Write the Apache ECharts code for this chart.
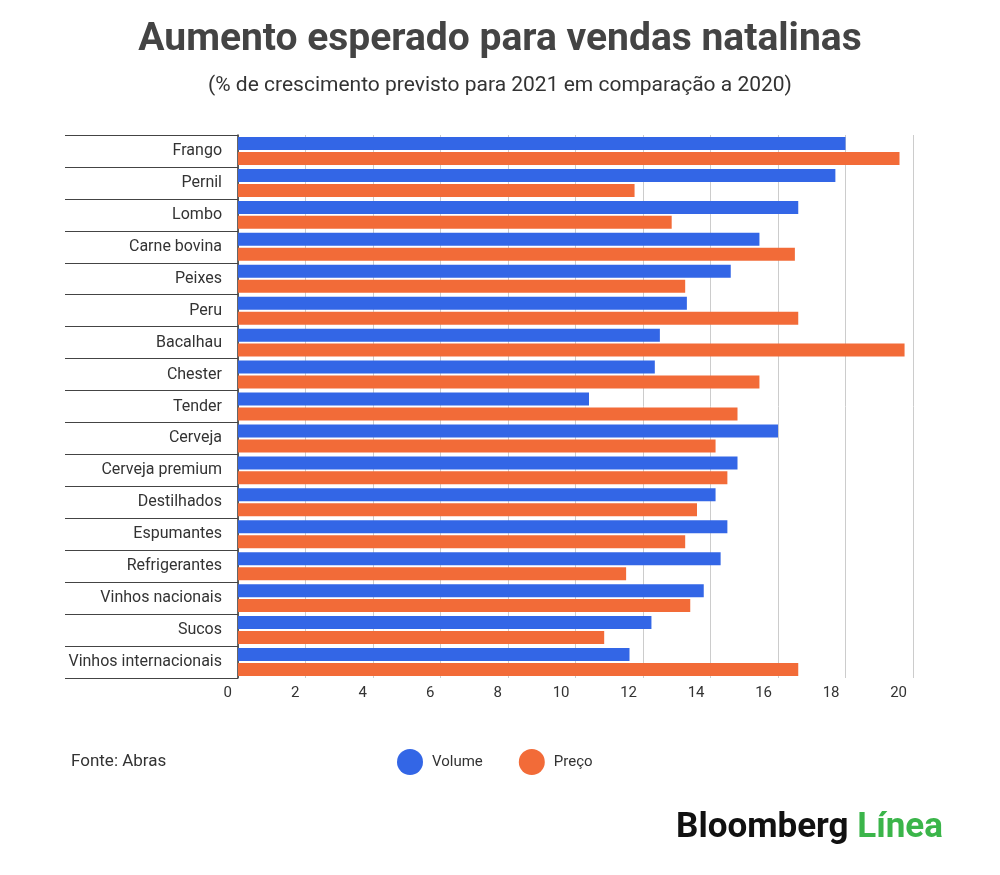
<!DOCTYPE html>
<html>
<head>
<meta charset="utf-8">
<script src="https://cdn.jsdelivr.net/npm/echarts@6/dist/echarts.min.js"></script>
<style>body{margin:0;background:#fff}#main{width:1000px;height:875px}</style>
</head>
<body>
<div id="main"></div>
<script>
const categories = ['Frango','Pernil','Lombo','Carne bovina','Peixes','Peru','Bacalhau','Chester','Tender','Cerveja','Cerveja premium','Destilhados','Espumantes','Refrigerantes','Vinhos nacionais','Sucos','Vinhos internacionais'];
const volume = [18.0, 17.7, 16.6, 15.45, 14.6, 13.3, 12.5, 12.35, 10.4, 16.0, 14.8, 14.15, 14.5, 14.3, 13.8, 12.25, 11.6];
const preco = [19.6, 11.75, 12.85, 16.5, 13.25, 16.6, 19.75, 15.45, 14.8, 14.15, 14.5, 13.6, 13.25, 11.5, 13.4, 10.85, 16.6];

const chart = echarts.init(document.getElementById('main'));
chart.setOption({
  animation: false,
  textStyle: {fontFamily: 'Roboto'},
  title: [
    {text: 'Aumento esperado para vendas natalinas', left: 'center', top: 16,
     textStyle: {fontSize: 39, fontWeight: 'bold', color: '#444'}},
    {text: '(% de crescimento previsto para 2021 em comparação a 2020)', left: 'center', top: 70,
     textStyle: {fontSize: 21, fontWeight: 'normal', color: '#333'}},
    {text: 'Fonte: Abras', left: 66, top: 748, textStyle: {fontSize: 17, fontWeight: 'normal', color: '#333'}},
    {text: '{a|Bloomberg }{b|Línea}', right: 52, top: 806,
     textStyle: {rich: {a: {fontSize: 35, fontWeight: 'bold', color: '#111', fontFamily: 'Roboto'},
                        b: {fontSize: 35, fontWeight: 'bold', color: '#3bb54a', fontFamily: 'Roboto'}}}}
  ],
  legend: {
    data: ['Volume', 'Preço'], left: 392, top: 744, icon: 'circle', itemWidth: 26, itemHeight: 26,
    itemGap: 36, textStyle: {fontSize: 15, color: '#333', padding: [0, 0, 0, 4]}
  },
  grid: {left: 238, right: 87, top: 135, bottom: 197, containLabel: false},
  xAxis: {
    type: 'value', min: 0, max: 20, interval: 2,
    axisLine: {show: false}, axisTick: {show: false},
    splitLine: {lineStyle: {color: '#ccc'}},
    axisLabel: {fontSize: 15, color: '#333', align: 'right', padding: [0, 6, 0, 0], margin: 8}
  },
  yAxis: {
    type: 'category', data: categories, inverse: true,
    axisLine: {lineStyle: {color: '#333', width: 1.5}},
    axisTick: {show: true, length: 173, lineStyle: {color: '#444'}},
    axisLabel: {fontSize: 16, color: '#333', margin: 16}
  },
  series: [
    {name: 'Volume', type: 'bar', data: volume, barWidth: 13, barGap: '15%', itemStyle: {color: '#3366e6'}},
    {name: 'Preço', type: 'bar', data: preco, barWidth: 13, itemStyle: {color: '#f26b38'}}
  ]
});
</script>
</body>
</html>
